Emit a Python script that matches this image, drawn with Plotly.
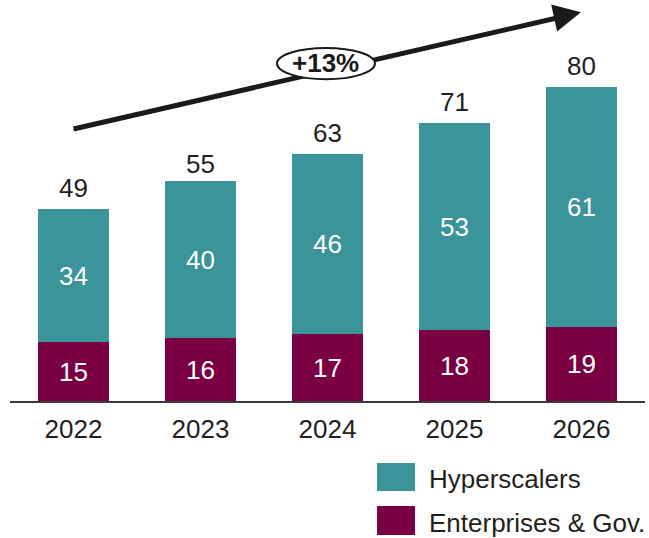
import plotly.graph_objects as go

# Market size by segment
years = ["2022", "2023", "2024", "2025", "2026"]
enterprises = [15, 16, 17, 18, 19]
hyperscalers = [34, 40, 46, 53, 61]
totals = [49, 55, 63, 71, 80]
series_names = ["Hyperscalers", "Enterprises & Gov."]
growth_label = "+13%"

TEAL = "#3A9499"
MAROON = "#7B0043"
TEXT = "#231F20"
FONT = "Liberation Sans, Arial, sans-serif"

fig = go.Figure()
fig.add_trace(go.Bar(
    x=years, y=enterprises, name=series_names[1],
    marker=dict(color=MAROON, line=dict(width=0)),
    text=[str(v) for v in enterprises], textposition="inside",
    insidetextanchor="middle", constraintext="none",
    textfont=dict(color="white", size=26, family=FONT),
))
fig.add_trace(go.Bar(
    x=years, y=hyperscalers, name=series_names[0],
    marker=dict(color=TEAL, line=dict(width=0)),
    text=[str(v) for v in hyperscalers], textposition="inside",
    insidetextanchor="middle", constraintext="none",
    textfont=dict(color="white", size=26, family=FONT),
))

# Totals above the stacks (category index positions)
for i, t in enumerate(totals):
    fig.add_annotation(x=i, y=t, xref="x", yref="y", text=str(t),
                       showarrow=False, yanchor="bottom", yshift=4,
                       font=dict(size=26, color=TEXT, family=FONT))

# Growth arrow: shaft as a shape, head as an annotation arrow
fig.add_shape(type="line", xref="x", yref="y",
              x0=0.0, y0=69.4, x1=3.9, y1=98.4,
              line=dict(color="#1A1A1A", width=5), layer="above")
fig.add_annotation(x=3.996, y=99.2, ax=3.8, ay=97.8,
                   xref="x", yref="y", axref="x", ayref="y",
                   text="", showarrow=True, arrowhead=2, arrowsize=1.1,
                   arrowwidth=5, arrowcolor="#1A1A1A")

# CAGR callout
fig.add_shape(type="circle", xref="x", yref="y",
              x0=1.602, x1=2.374, y0=82.1, y1=90.05,
              fillcolor="white", line=dict(color="#1A1A1A", width=2),
              layer="above")
fig.add_annotation(x=1.988, y=86.3, text="<b>" + growth_label + "</b>",
                   showarrow=False,
                   font=dict(size=26, color="#1A1A1A", family=FONT))

# Custom legend
legend_items = [(series_names[0], TEAL, -0.2296, -0.158),
                (series_names[1], MAROON, -0.3418, -0.2679)]
for name, color, y0, y1 in legend_items:
    fig.add_shape(type="rect", xref="paper", yref="paper",
                  x0=0.578, x1=0.6378, y0=y0, y1=y1,
                  fillcolor=color, line=dict(width=0))
    fig.add_annotation(xref="paper", yref="paper", x=0.6567,
                       y=(y0 + y1) / 2, yshift=-2, text=name, showarrow=False,
                       xanchor="left", yanchor="middle",
                       font=dict(size=26, color=TEXT, family=FONT))

fig.update_layout(
    width=649, height=538,
    margin=dict(l=10, r=4, t=9, b=137),
    barmode="stack", bargap=0.44,
    plot_bgcolor="white", paper_bgcolor="white",
    showlegend=False,
    font=dict(family=FONT, color=TEXT),
    xaxis=dict(range=[-0.5, 4.5], showline=True, linecolor="#3A3A3A",
               linewidth=2, ticks="", showgrid=False, zeroline=False,
               ticklabelstandoff=4,
               tickfont=dict(size=26, color=TEXT, family=FONT)),
    yaxis=dict(range=[0, 100], visible=False, showgrid=False),
)

fig.write_html("out.html")
